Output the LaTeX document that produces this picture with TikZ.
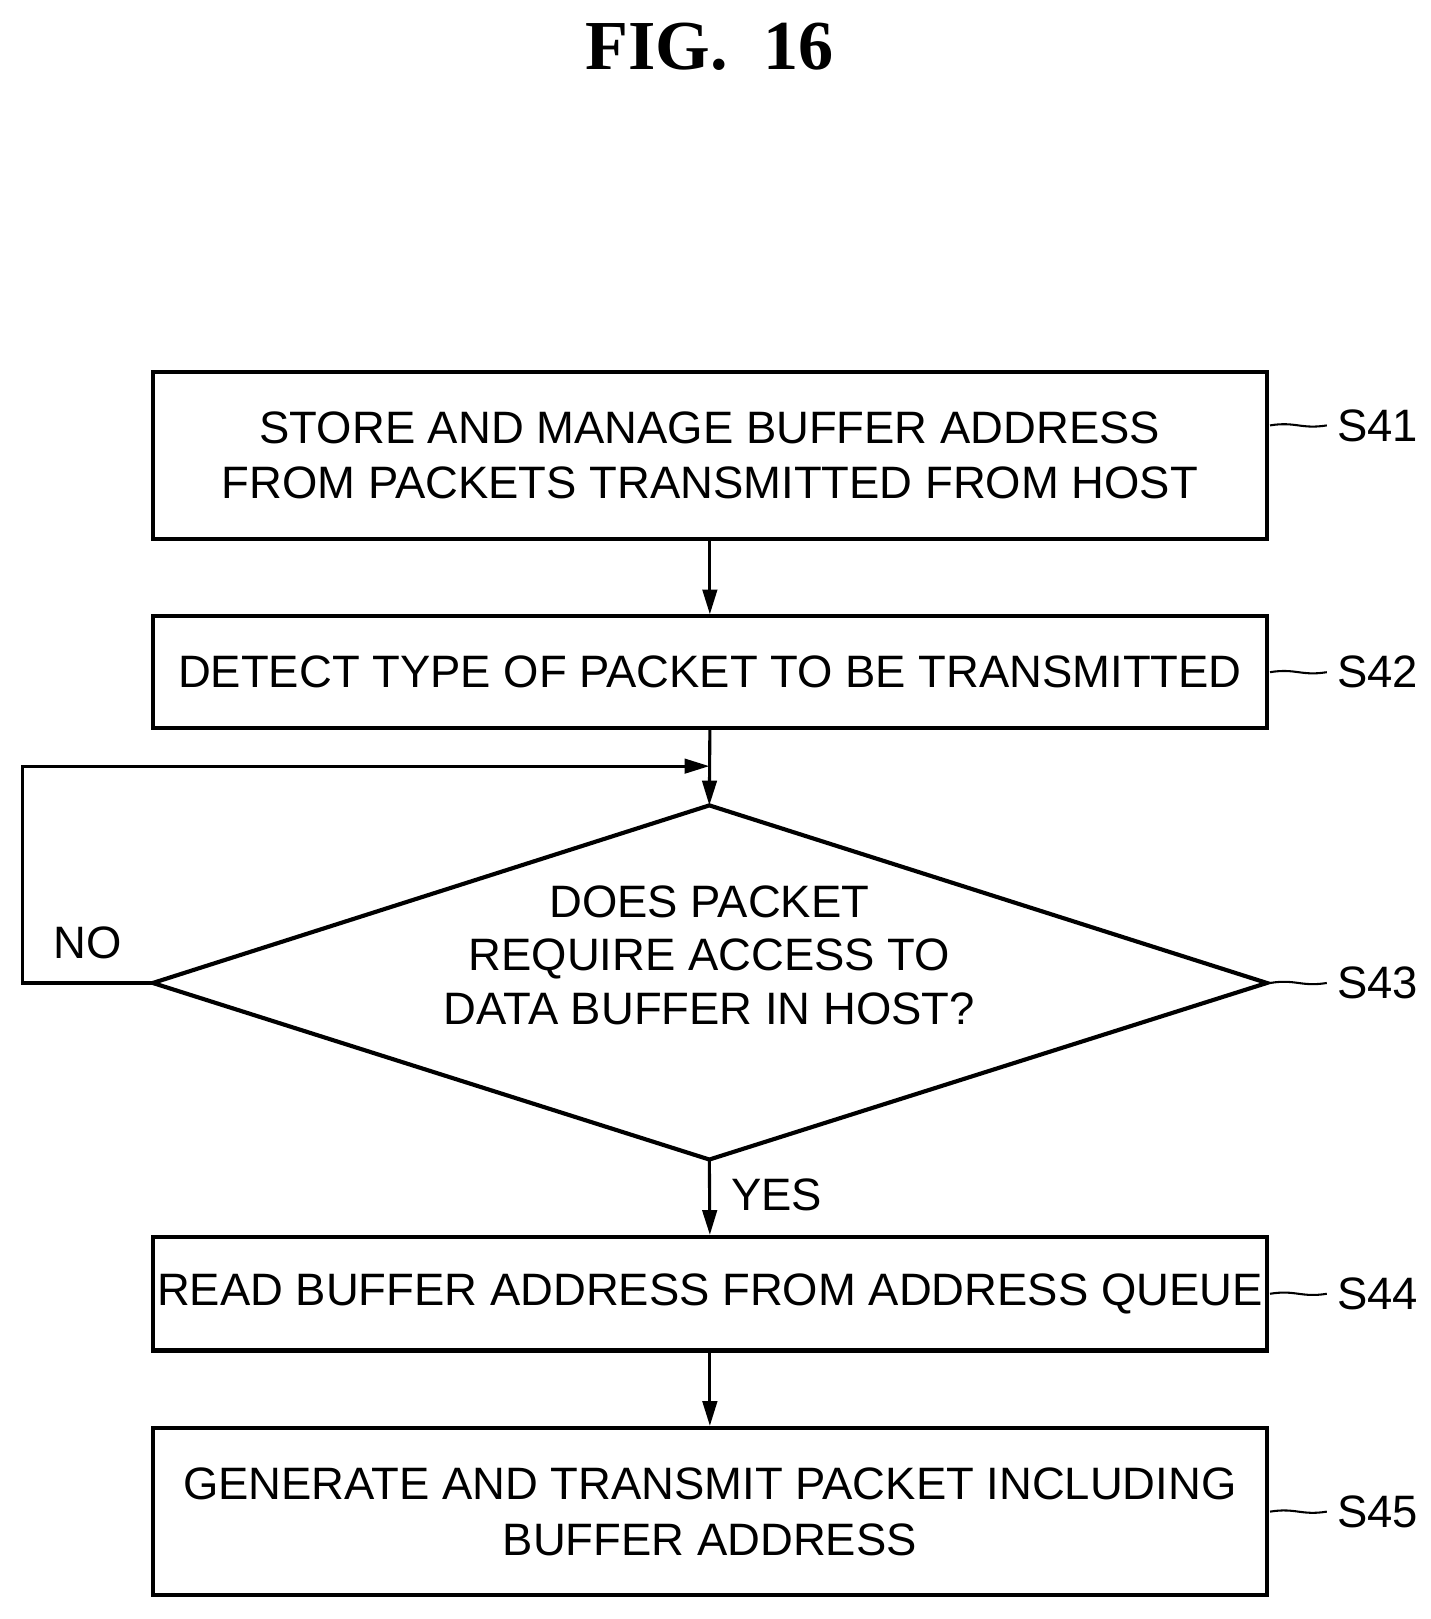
\documentclass[tikz,border=0pt]{standalone}
\usepackage{fontspec}
\setmainfont{Liberation Sans}
\newfontfamily\titlefont{Liberation Serif}
\usetikzlibrary{arrows.meta}
\begin{document}
\begin{tikzpicture}[x=0.5pt,y=-0.5pt,
  box/.style={draw,line width=2pt,minimum width=539.5pt,align=center,font=\fontsize{22}{27}\selectfont,inner sep=0pt},
  lab/.style={font=\fontsize{22}{26}\selectfont},
  arr/.style={line width=1.5pt,-{Triangle[length=12pt,width=7pt]}},
  lead/.style={line width=1pt}]
\useasboundingbox (0,0) rectangle (1385,1568);
\node[font=\titlefont\bfseries\fontsize{34}{40}\selectfont] (t) at (687,45) {FIG.\ \ 16};
\node[box,minimum height=81pt] (s41) at (687.5,441) {STORE AND MANAGE BUFFER ADDRESS\\FROM PACKETS TRANSMITTED FROM HOST};
\node[box,minimum height=54pt] (s42) at (687.5,651) {DETECT TYPE OF PACKET TO BE TRANSMITTED};
\coordinate (dt) at (687,780); \coordinate (db) at (687,1123);
\coordinate (dl) at (148,952); \coordinate (dr) at (1227,952);
\draw[line width=2pt] (dt) -- (dr) -- (db) -- (dl) -- cycle;
\node[lab,align=center] (q) at (687,925) {DOES PACKET\\REQUIRE ACCESS TO\\DATA BUFFER IN HOST?};
\node[box,minimum height=55pt] (s44) at (687.5,1253) {READ BUFFER ADDRESS FROM ADDRESS QUEUE};
\node[box,minimum height=81pt] (s45) at (687.5,1464) {GENERATE AND TRANSMIT PACKET INCLUDING\\BUFFER ADDRESS};
\draw[arr] (s41.south) -- (s42.north);
\draw[arr] (s42.south) -- (dt);
\draw[arr] (db) -- (s44.north);
\draw[arr] (s44.south) -- (s45.north);
\coordinate (c1) at (22,952); \coordinate (c2) at (22,742); \coordinate (c3) at (687,742);
\draw[arr] (dl) -- (c1) -- (c2) -- (c3);
\node[lab] (no) at (85,913) {NO};
\node[lab] (yes) at (752,1157) {YES};
\foreach \n/\y in {s41/412,s42/651,s43/952,s44/1253,s45/1464}{
  \node[lab,anchor=west] (l\n) at (1288,\y) {\MakeUppercase{\n}};
  \draw[lead] (1230,\y) .. controls (1255,\y-4) and (1260,\y+4) .. (1285,\y);
}
\end{tikzpicture}
\end{document}
